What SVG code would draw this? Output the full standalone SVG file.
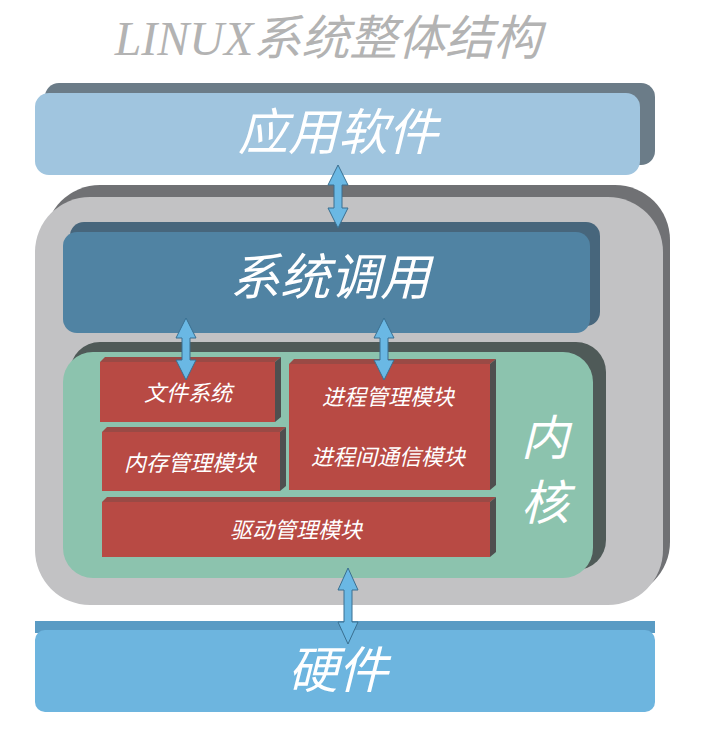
<svg xmlns="http://www.w3.org/2000/svg" width="712" height="730" viewBox="0 0 712 730">
<defs>
<style>
.t{font-family:"Noto Sans CJK SC","Liberation Sans",sans-serif;font-style:italic;fill:#fff;text-anchor:middle}
.red{fill:#b84a44}
.redside{fill:#4f4f4f}
.redtop{fill:#9a4a45}
.arr{fill:#6ab8e4;stroke:#3a6f90;stroke-width:1}
</style>
</defs>
<rect width="712" height="730" fill="#fff"/>
<text x="328" y="55" font-family="Liberation Serif,'Noto Sans CJK SC',serif" font-style="italic" font-size="48" fill="#b3b3b3" text-anchor="middle">LINUX系统整体结构</text>
<g id="app">
<rect x="45" y="83" width="610" height="82" rx="14" fill="#6b7c88"/>
<rect x="35" y="93" width="605" height="82" rx="14" fill="#a0c5df"/>
<text class="t" x="338" y="150" font-size="50">应用软件</text>
</g>
<g id="outer">
<rect x="45" y="185" width="625" height="412" rx="55" fill="#707174"/>
<rect x="35" y="197" width="628" height="408" rx="55" fill="#c2c2c4"/>
</g>
<g id="syscall">
<rect x="70" y="222" width="530" height="104" rx="14" fill="#47667c"/>
<rect x="63" y="232" width="527" height="101" rx="14" fill="#5083a3"/>
<text class="t" x="330" y="295" font-size="50">系统调用</text>
</g>
<g id="kernel">
<rect x="70" y="342" width="536" height="228" rx="30" fill="#4f5a58"/>
<rect x="63" y="352" width="530" height="226" rx="30" fill="#8cc3ae"/>
<text class="t" x="545" y="455" font-size="48">内</text>
<text class="t" x="545" y="520" font-size="48">核</text>
</g>
<g id="fs">
<path d="M100,362 L105,357 H281 L275,362 Z" class="redtop"/><path d="M275,362 L281,357 V417 L275,422 Z" class="redside"/>
<rect class="red" x="100" y="362" width="175" height="60"/>
<text class="t" x="188" y="401" font-size="22">文件系统</text>
</g>
<g id="mem">
<path d="M102,432 L107,427 H286 L280,432 Z" class="redtop"/><path d="M280,432 L286,427 V486 L280,491 Z" class="redside"/>
<rect class="red" x="102" y="432" width="178" height="59"/>
<text class="t" x="190" y="471" font-size="22">内存管理模块</text>
</g>
<g id="proc">
<path d="M289,364 L294,359 H496 L490,364 Z" class="redtop"/><path d="M490,364 L496,359 V485 L490,490 Z" class="redside"/>
<rect class="red" x="289" y="364" width="201" height="126"/>
<text class="t" x="388" y="405" font-size="22">进程管理模块</text>
<text class="t" x="388" y="465" font-size="22">进程间通信模块</text>
</g>
<g id="drv">
<path d="M102,502 L107,497 H496 L490,502 Z" class="redtop"/><path d="M490,502 L496,497 V552 L490,557 Z" class="redside"/>
<rect class="red" x="102" y="502" width="388" height="55"/>
<text class="t" x="296" y="538" font-size="22">驱动管理模块</text>
</g>
<g id="hw">
<rect x="35" y="621" width="620" height="12" fill="#5a9bc4"/>
<rect x="35" y="630" width="620" height="82" rx="10" fill="#6db5df"/>
<text class="t" x="338" y="688" font-size="50">硬件</text>
</g>
<g id="connectors">
<path class="arr" d="M338,165 L348,185 H342 V208 H348 L338,228 L328,208 H334 V185 H328 Z"/>
<path class="arr" d="M186,318 L196,338 H190 V360 H196 L186,380 L176,360 H182 V338 H176 Z"/>
<path class="arr" d="M384,318 L394,338 H388 V360 H394 L384,380 L374,360 H380 V338 H374 Z"/>
<path class="arr" d="M348,568 L358,590 H352 V622 H358 L348,644 L338,622 H344 V590 H338 Z"/>
</g>
</svg>
